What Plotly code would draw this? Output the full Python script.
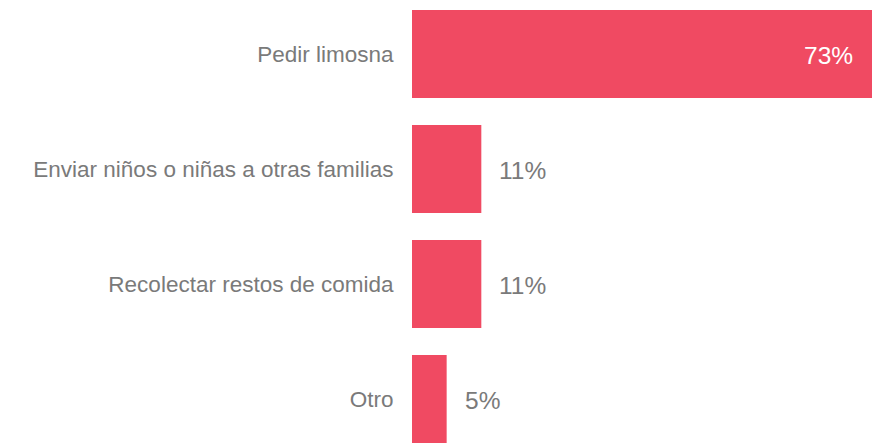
import plotly.graph_objects as go

categories = ["Pedir limosna", "Enviar niños o niñas a otras familias",
              "Recolectar restos de comida", "Otro"]
values = [73, 11, 11, 5.5]
value_labels = ["73%", "11%", "11%", "5%"]

BAR = "#F04A62"
GRAY = "#7A7A7A"
FONT = "Liberation Sans, Arial, sans-serif"

ypos = list(range(len(categories)))

fig = go.Figure(go.Bar(
    x=values, y=ypos, orientation="h",
    marker=dict(color=BAR, line=dict(width=0)),
    width=0.765, hoverinfo="skip",
))

annotations = []
for i, (v, lab) in enumerate(zip(values, value_labels)):
    inside = v > 40
    annotations.append(dict(
        x=v, y=i, xref="x", yref="y", text=lab, showarrow=False,
        xanchor="right" if inside else "left",
        xshift=-17 if inside else 16, yshift=-1,
        font=dict(size=24.5, color="white" if inside else GRAY, family=FONT),
    ))

fig.update_layout(
    width=884, height=443,
    margin=dict(l=412, r=0, t=0, b=0),
    paper_bgcolor="white", plot_bgcolor="white",
    showlegend=False,
    annotations=annotations,
    font=dict(family=FONT),
)
fig.update_xaxes(range=[0, 472 / (460 / 73)], visible=False)
fig.update_yaxes(
    range=[(443 - 54) / 115, -54 / 115],
    tickvals=ypos, ticktext=categories,
    showgrid=False, zeroline=False, showline=False,
    ticks="outside", ticklen=13, tickcolor="rgba(0,0,0,0)",
    tickfont=dict(size=22.5, color=GRAY, family=FONT),
)

fig.write_html("out.html", config={"displayModeBar": False},
               post_script="document.body.style.margin='0';")
